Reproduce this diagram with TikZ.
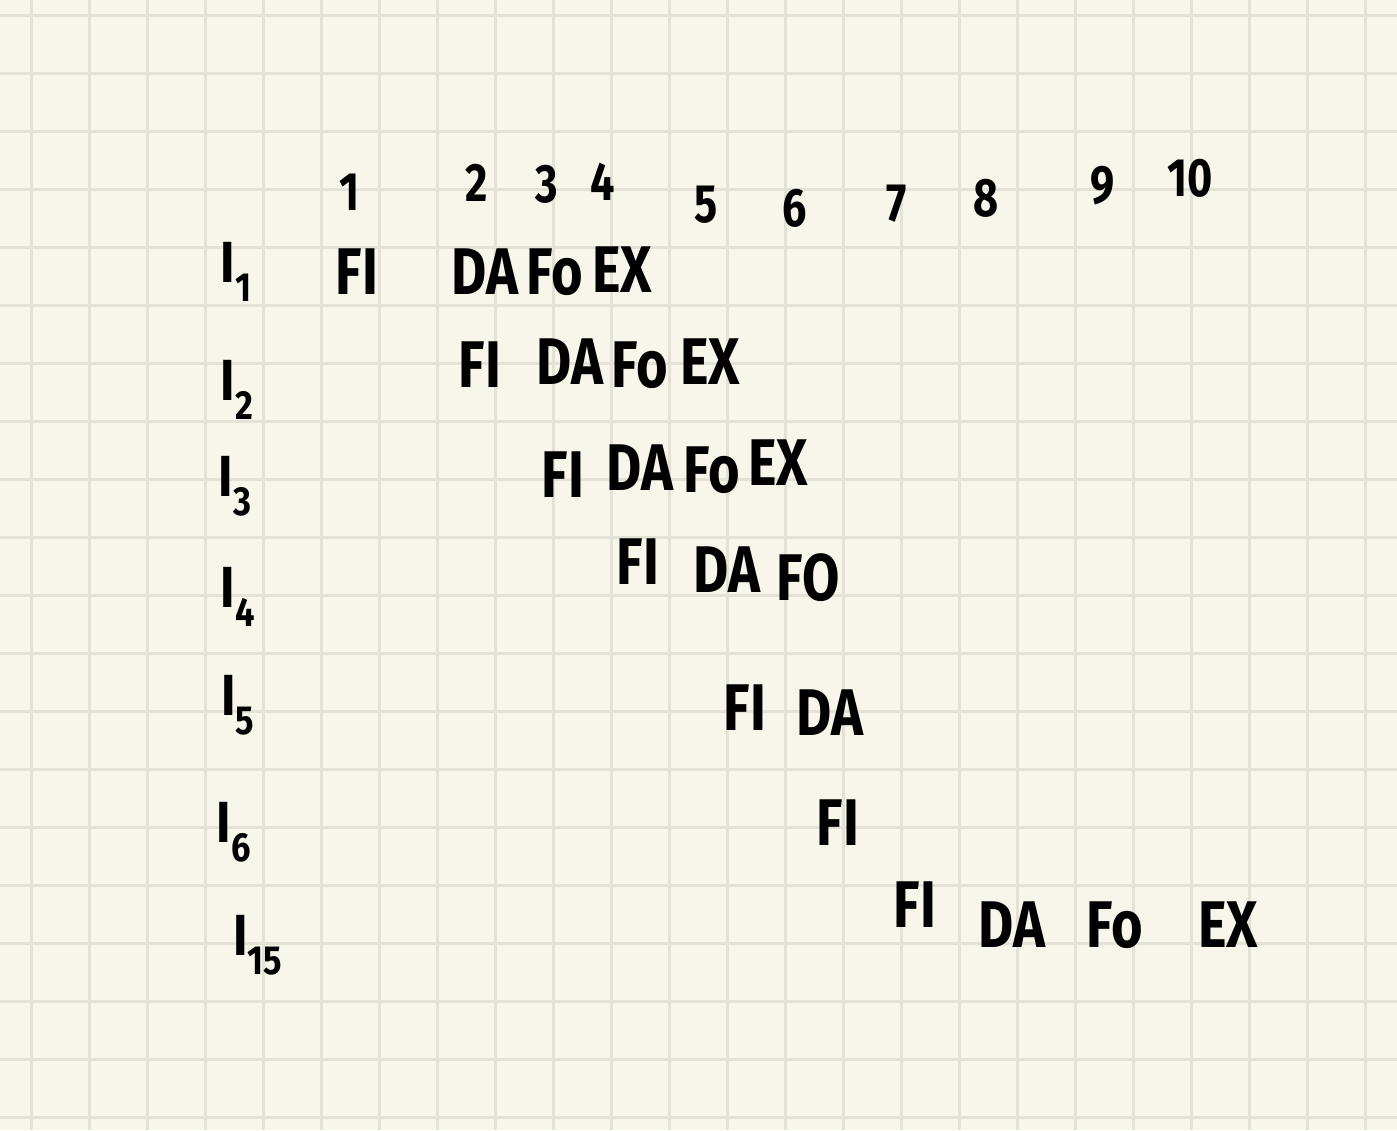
\documentclass[tikz,border=0pt]{standalone}
\usepackage{fontspec}
\setmainfont{Fira Sans}
\definecolor{paper}{HTML}{F8F6EA}
\definecolor{gridline}{HTML}{E4E2D6}
\tikzset{
  stage/.style={font=\fontsize{66}{66}\selectfont\bfseries, inner sep=0pt, xscale=0.82, transform shape},
  cycle/.style={font=\fontsize{54}{54}\selectfont\bfseries, inner sep=0pt, xscale=0.8, transform shape},
  instr/.style={font=\fontsize{58}{58}\selectfont\bfseries, inner sep=0pt, xscale=0.85, transform shape}
}

\begin{document}
\begin{tikzpicture}[x=1pt, y=-1pt]
		%%%%% START %%%%%
		
		\useasboundingbox[fill=paper] (0, 0) rectangle (1397, 1130);
		\foreach \gx in {0,...,23}
			\draw[line width=3pt, color=gridline] ({31+58*\gx}, 0) -- ({31+58*\gx}, 1130);
		\foreach \gy in {0,...,19}
			\draw[line width=3pt, color=gridline] (0, {15+58*\gy}) -- (1397, {15+58*\gy});
		
		% cycles
		\node[cycle] (c1) at (350, 192) {1};
		\node[cycle] (c2) at (477, 183) {2};
		\node[cycle] (c3) at (547, 184) {3};
		\node[cycle] (c4) at (603, 182) {4};
		\node[cycle] (c5) at (706, 205) {5};
		\node[cycle] (c6) at (795, 208) {6};
		\node[cycle] (c7) at (897, 204) {7};
		\node[cycle] (c8) at (986, 198) {8};
		\node[cycle] (c9) at (1103, 186) {9};
		\node[cycle] (c10) at (1190, 178) {10};
		
		% instructions
		\node[instr] (i1) at (236, 272) {I\textsubscript{1}};
		\node[instr] (i2) at (237, 390) {I\textsubscript{2}};
		\node[instr] (i3) at (235, 486) {I\textsubscript{3}};
		\node[instr] (i4) at (238, 597) {I\textsubscript{4}};
		\node[instr] (i5) at (238, 705) {I\textsubscript{5}};
		\node[instr] (i6) at (234, 832) {I\textsubscript{6}};
		\node[instr] (i15) at (258, 945) {I\textsubscript{15}};
		
		% stages of I1
		\node[stage] (fi1) at (357, 272) {FI};
		\node[stage] (da1) at (485, 272) {DA};
		\node[stage] (fo1) at (555, 272) {Fo};
		\node[stage] (ex1) at (622, 270) {EX};
		
		% stages of I2
		\node[stage] (fi2) at (480, 365) {FI};
		\node[stage] (da2) at (570, 362) {DA};
		\node[stage] (fo2) at (640, 365) {Fo};
		\node[stage] (ex2) at (710, 362) {EX};
		
		% stages of I3
		\node[stage] (fi3) at (563, 475) {FI};
		\node[stage] (da3) at (640, 468) {DA};
		\node[stage] (fo3) at (712, 470) {Fo};
		\node[stage] (ex3) at (778, 463) {EX};
		
		% stages of I4
		\node[stage] (fi4) at (638, 562) {FI};
		\node[stage] (da4) at (727, 570) {DA};
		\node[stage] (fo4) at (808, 578) {FO};
		
		% stages of I5
		\node[stage] (fi5) at (745, 708) {FI};
		\node[stage] (da5) at (830, 713) {DA};
		
		% stages of I6
		\node[stage] (fi6) at (838, 823) {FI};
		
		% stages of I15
		\node[stage] (fi15) at (915, 905) {FI};
		\node[stage] (da15) at (1012, 925) {DA};
		\node[stage] (fo15) at (1115, 925) {Fo};
		\node[stage] (ex15) at (1228, 925) {EX};
		
		%%%%% END %%%%%
	\end{tikzpicture}
\end{document}
